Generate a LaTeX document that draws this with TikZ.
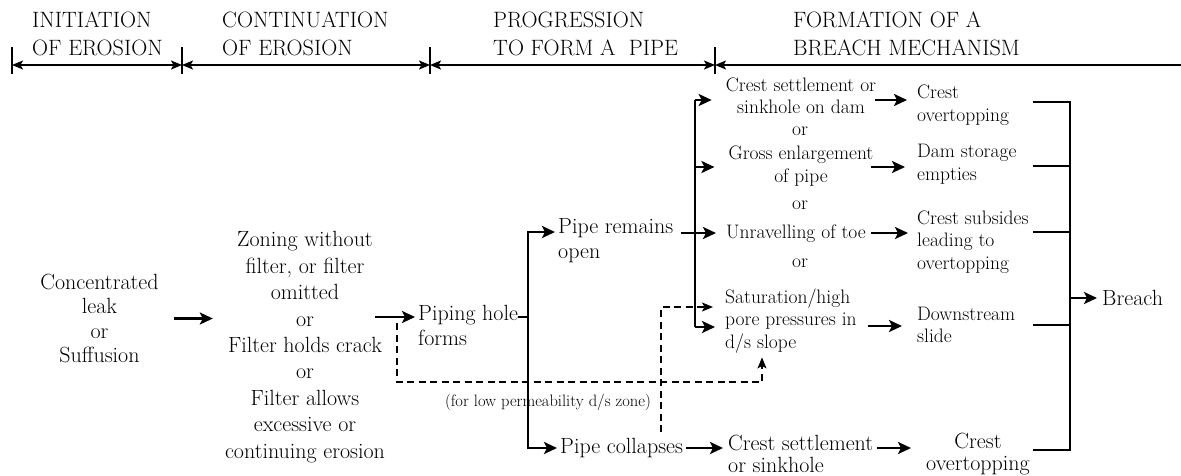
\documentclass[tikz,border=0pt]{standalone}
\usepackage{fontspec}
\usetikzlibrary{arrows.meta}
\begin{document}
\begin{tikzpicture}[x=1pt,y=-1pt,
  hdr/.style={font=\rmfamily\fontsize{22.2}{28}\selectfont, inner sep=0pt, align=left, anchor=north west},
  big/.style={font=\rmfamily\fontsize{22}{25}\selectfont, inner sep=0pt, align=center},
  sm/.style={font=\rmfamily\fontsize{19.5}{22.5}\selectfont, inner sep=0pt, align=center},
  tiny/.style={font=\rmfamily\fontsize{16.5}{19}\selectfont, inner sep=0pt},
  ln/.style={line width=2.6pt},
  arr/.style={line width=2.6pt, -{Stealth[length=13pt,width=12pt,inset=3pt]}},
  dsh/.style={line width=1.3pt, dash pattern=on 7pt off 4.5pt},
  darr/.style={dsh, -{Stealth[length=11pt,width=9pt,inset=2.5pt]}},
  tl/.style={line width=1.6pt},
  tlboth/.style={tl, {Stealth[length=11pt,width=9pt,inset=2.5pt]}-{Stealth[length=11pt,width=9pt,inset=2.5pt]}},
  tlleft/.style={tl, {Stealth[length=11pt,width=9pt,inset=2.5pt]}-},
]
\useasboundingbox (0,0) rectangle (1181,475);

% ---------- header ----------
\node[hdr] (h1) at (32,12) {INITIATION\\OF EROSION};
\node[hdr] (h2) at (222,12) {CONTINUATION\\OF EROSION};
\node[hdr] (h3) at (493,12) {PROGRESSION\\TO FORM A\ \ PIPE};
\node[hdr] (h4) at (793,12) {FORMATION OF A\\BREACH MECHANISM};

\coordinate (t0) at (12,65);
\coordinate (t1) at (182,65);
\coordinate (t2) at (430,65);
\coordinate (t3) at (715,65);
\coordinate (t4) at (1181,65);
\draw[tlboth] (t0) -- (t1);
\draw[tlboth] (t1) -- (t2);
\draw[tlboth] (t2) -- (t3);
\draw[tlleft] (t3) -- (t4);
\foreach \t in {t0,t1,t2,t3}
  \draw[line width=1.3pt] ([yshift=18pt]\t) -- ([yshift=-9pt]\t);

% ---------- nodes ----------
\node[big, font=\rmfamily\fontsize{22}{24.5}\selectfont] (init) at (99.5,318.5)
  {Concentrated\\leak\\or\\Suffusion};
\node[big, font=\rmfamily\fontsize{22}{26.4}\selectfont] (cont) at (305,347)
  {Zoning without\\filter, or filter\\omitted\\or\\Filter holds crack\\or\\Filter allows\\excessive or\\continuing erosion};
\node[big, align=left, anchor=west] (pipe) at (418,325) {Piping hole\\forms};
\node[big, align=left, anchor=west] (remains) at (558,241) {Pipe remains\\open};
\node[big, align=left, anchor=west] (collapse) at (560,448) {Pipe collapses};

\node[sm] (c3a) at (801,96) {Crest settlement or\\sinkhole on dam};
\node[sm] (or1) at (800,131) {or};
\node[sm] (c3b) at (801,166) {Gross enlargement\\of pipe};
\node[sm] (or2) at (800,205) {or};
\node[sm] (c3c) at (796,234) {Unravelling of toe};
\node[sm] (or3) at (800,263) {or};
\node[sm, align=left, anchor=west] (c3d) at (725,321) {Saturation/high\\pore pressures in\\d/s slope};

\node[sm, align=left, anchor=west] (c4a) at (917,105) {Crest\\overtopping};
\node[sm, align=left, anchor=west] (c4b) at (917,164) {Dam storage\\empties};
\node[sm, align=left, anchor=west] (c4c) at (917,242) {Crest subsides\\leading to\\overtopping};
\node[sm, align=left, anchor=west] (c4d) at (917,325) {Downstream\\slide};

\node[big, align=left, anchor=west, font=\rmfamily\fontsize{22}{22}\selectfont] (cs) at (728,454) {Crest settlement\\or sinkhole};
\node[big, font=\rmfamily\fontsize{22}{22}\selectfont] (co) at (978,454) {Crest\\overtopping};
\node[big, anchor=west] (breach) at (1102,298) {Breach};

\node[tiny] (note) at (548,402) {(for low permeability d/s zone)};

% ---------- helper coordinates ----------
\coordinate (j1) at (528,317);
\coordinate (j1t) at (528,232);
\coordinate (j1b) at (528,448);
\coordinate (v2m) at (695,233);
\coordinate (v2t) at (695,100);
\coordinate (v2g) at (695,167);
\coordinate (v2b) at (695,327);
\coordinate (r4) at (0,326);
\coordinate (r5) at (0,448);
\coordinate (bv1) at (1070,102);
\coordinate (bv2) at (1070,166);
\coordinate (bv3) at (1070,232);
\coordinate (bv4) at (1070,325);
\coordinate (bv5) at (1070,450);
\coordinate (bx) at (1033,0);
\coordinate (dA) at (397,323);
\coordinate (dB) at (397,382);
\coordinate (dC) at (762,382);
\coordinate (eA) at (661,432);
\coordinate (eB) at (661,307);

% ---------- connectors ----------
\draw[arr, shorten <=15pt, shorten >=12pt] (init.east) -- (init.east -| cont.west);
\draw[arr, shorten >=3pt] ([xshift=-10pt]cont.east |- j1) -- (pipe.west |- j1);
\draw[ln] (pipe.east |- j1) -- (j1);
\draw[arr, shorten >=3pt] (j1) -- (j1t) -- (remains.west |- j1t);
\draw[arr, shorten >=3pt] (j1) -- (j1b) -- (collapse.west |- j1b);

\draw[ln, shorten <=7pt] (remains.east |- v2m) -- (v2m);
\draw[ln] (v2t) -- (v2b);
\draw[arr, shorten >=14pt] (v2t) -- (v2t -| c3a.west);
\draw[arr, shorten >=14pt] (v2g) -- (v2g -| c3b.west);
\draw[arr, shorten >=10pt] (v2m) -- (v2m -| c3c.west);
\draw[arr, shorten >=10pt] (v2b) -- (v2b -| c3d.west);

\draw[arr, shorten <=-1pt, shorten >=10pt] (c3a.east |- v2t) -- (c4a.west |- v2t);
\draw[arr, shorten <=-3pt, shorten >=12pt] (c3b.east |- v2g) -- (c4b.west |- v2g);
\draw[arr, shorten <=5pt, shorten >=9pt] (c3c.east |- v2m) -- (c4c.west |- v2m);
\draw[arr, shorten <=11pt, shorten >=15pt] (c3d.east |- r4) -- (c4d.west |- r4);
\draw[arr, shorten <=3pt, shorten >=5pt] (collapse.east |- r5) -- (cs.west |- r5);
\draw[arr, shorten <=4pt, shorten >=15pt] (cs.east |- r5) -- (co.west |- r5);

\draw[ln] (bx |- bv1) -- (bv1) -- (bv5) -- (bx |- bv5);
\draw[ln] (bx |- bv2) -- (bv2);
\draw[ln] (bx |- bv3) -- (bv3);
\draw[ln] (bx |- bv4) -- (bv4);
\draw[arr, shorten >=5pt] (bv1 |- breach.west) -- (breach.west);

\draw[darr, shorten >=4pt] (dA) -- (dB) -- (dC) -- (dC |- c3d.south);
\draw[darr, shorten >=12pt] (eA) -- (eB) -- (eB -| c3d.west);
\end{tikzpicture}
\end{document}
